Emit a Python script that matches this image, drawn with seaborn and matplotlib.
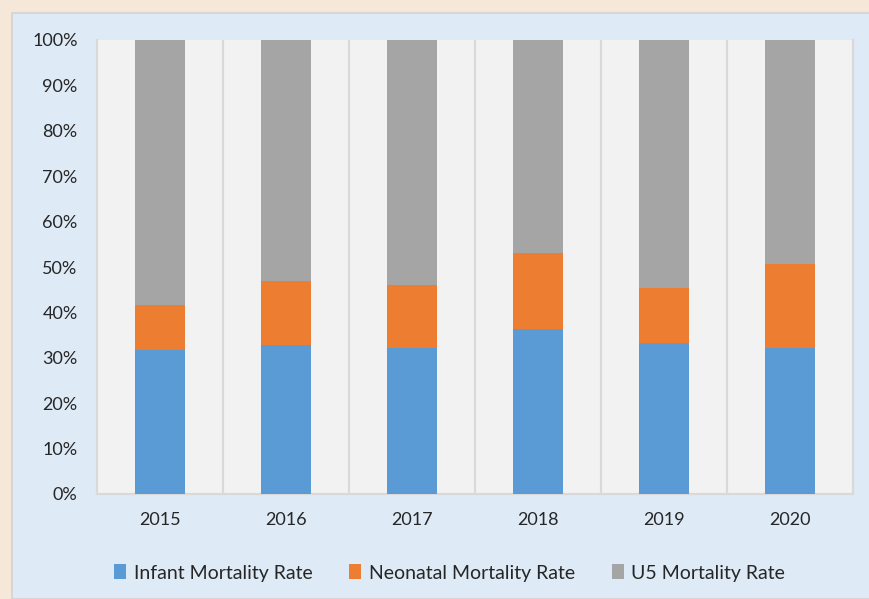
import matplotlib
matplotlib.use("Agg")
import matplotlib.pyplot as plt
import matplotlib.patches as mpatches
import seaborn as sns
import pandas as pd
import numpy as np

years = ["2015", "2016", "2017", "2018", "2019", "2020"]
infant = [31.7, 32.8, 32.2, 36.3, 33.2, 32.2]
neonatal = [9.9, 14.1, 13.8, 16.8, 12.2, 18.5]
u5 = [100 - a - b for a, b in zip(infant, neonatal)]
series_names = ["Infant Mortality Rate", "Neonatal Mortality Rate", "U5 Mortality Rate"]
colors = ["#5B9BD5", "#ED7D31", "#A5A5A5"]

df = pd.DataFrame({"year": years, "infant": infant, "neonatal": neonatal, "u5": u5})
df["c1"] = df["infant"]
df["c2"] = df["infant"] + df["neonatal"]
df["c3"] = df["c2"] + df["u5"]

sns.set_theme(style="white")
plt.rcParams["font.family"] = ["Lato", "DejaVu Sans"]

fig = plt.figure(figsize=(8.7, 5.99), dpi=100)
fig.patch.set_facecolor("#F6E8D8")
# light blue chart frame
frame = mpatches.Rectangle((12 / 870, 0), 1.0, 1 - 13 / 599, transform=fig.transFigure,
                           facecolor="#DEEAF6", edgecolor="#D3D3D3", linewidth=1.2, zorder=-5)
fig.patches.append(frame)

ax = fig.add_axes([97 / 870, 1 - 494 / 599, (853 - 97) / 870, (494 - 40) / 599])
ax.set_facecolor("#F2F2F2")

w = 0.39
sns.barplot(data=df, x="year", y="c3", color=colors[2], width=w, ax=ax, saturation=1,
            linewidth=0, zorder=3)
sns.barplot(data=df, x="year", y="c2", color=colors[1], width=w, ax=ax, saturation=1,
            linewidth=0, zorder=3)
sns.barplot(data=df, x="year", y="c1", color=colors[0], width=w, ax=ax, saturation=1,
            linewidth=0, zorder=3)

ax.set_ylim(0, 100)
ax.set_xlim(-0.5, len(years) - 0.5)
ax.set_yticks(np.arange(0, 101, 10))
ax.set_yticklabels([f"{v}%" for v in range(0, 101, 10)])
ax.set_xlabel("")
ax.set_ylabel("")
for b in np.arange(0.5, len(years) - 0.5, 1):
    ax.axvline(b, color="#D9D9D9", linewidth=1.6, zorder=1)

ax.spines["top"].set_visible(False)
for s in ["left", "right", "bottom"]:
    ax.spines[s].set_color("#D9D9D9")
    ax.spines[s].set_linewidth(1.6)

ax.tick_params(axis="y", length=0, pad=14, labelsize=13, labelcolor="#262626")
ax.tick_params(axis="x", length=0, pad=13, labelsize=13, labelcolor="#262626")

handles = [mpatches.Patch(facecolor=c, edgecolor="none", label=n) for c, n in zip(colors, series_names)]
fig.legend(handles=handles, loc="center", bbox_to_anchor=(0.517, 1 - 573 / 599), ncol=3,
           frameon=False, fontsize=14, handlelength=0.6, handleheight=0.8,
           handletextpad=0.4, columnspacing=1.9, labelcolor="#262626")

fig.savefig("out.png", dpi=100, facecolor=fig.get_facecolor())
